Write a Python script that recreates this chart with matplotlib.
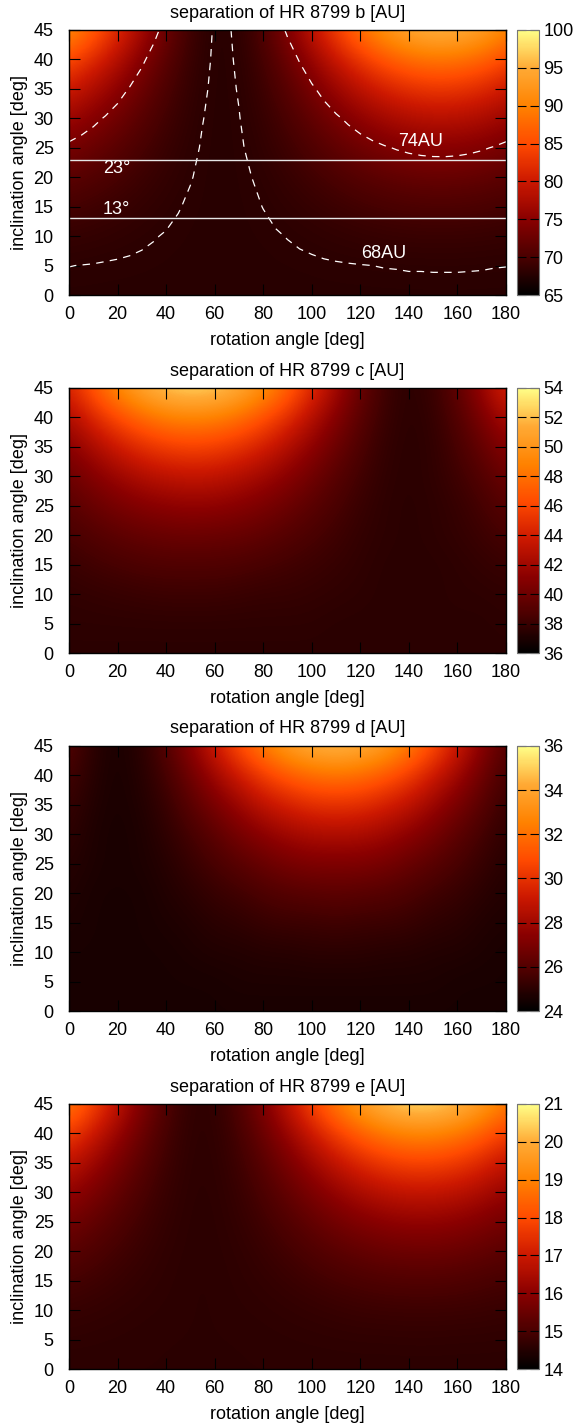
import numpy as np
import matplotlib
matplotlib.use("Agg")
import matplotlib.pyplot as plt
from matplotlib.colors import LinearSegmentedColormap

plt.rcParams['font.family'] = ['Liberation Sans', 'DejaVu Sans']
plt.rcParams['font.size'] = 13

# inclination rows (deg) shared by all maps
inc = [0, 5, 10, 15, 20, 25, 30, 35, 40, 45]

# rotation columns (deg)
rot_fine = [0, 5, 10, 15, 20, 25, 30, 35, 40, 45, 50, 55, 60, 65, 70, 75, 80, 85, 90,
            95, 100, 105, 110, 115, 120, 125, 130, 135, 140, 145, 150, 155, 160, 165, 170, 175, 180]
rot = [0, 10, 20, 30, 40, 50, 60, 70, 80, 90, 100, 110, 120, 130, 140, 150, 160, 170, 180]

# deprojected separation [AU], one row per inclination
sep_b = [
    [67.80] * 37,
    [68.01, 67.99, 67.97, 67.94, 67.92, 67.90, 67.88, 67.86, 67.84, 67.82, 67.81, 67.81, 67.80, 67.80, 67.80, 67.81, 67.82, 67.84, 67.85,
     67.87, 67.89, 67.92, 67.94, 67.96, 67.98, 68.00, 68.02, 68.03, 68.05, 68.05, 68.06, 68.06, 68.06, 68.05, 68.04, 68.02, 68.01],
    [68.63, 68.55, 68.47, 68.38, 68.29, 68.20, 68.11, 68.03, 67.96, 67.90, 67.85, 67.82, 67.80, 67.80, 67.82, 67.85, 67.89, 67.95, 68.02,
     68.10, 68.18, 68.27, 68.36, 68.45, 68.54, 68.62, 68.69, 68.75, 68.79, 68.83, 68.84, 68.84, 68.83, 68.80, 68.76, 68.70, 68.63],
    [69.71, 69.53, 69.34, 69.13, 68.92, 68.72, 68.52, 68.33, 68.17, 68.03, 67.92, 67.85, 67.81, 67.80, 67.84, 67.91, 68.01, 68.14, 68.30,
     68.48, 68.68, 68.88, 69.09, 69.29, 69.49, 69.67, 69.83, 69.97, 70.07, 70.15, 70.19, 70.19, 70.16, 70.09, 69.99, 69.86, 69.71],
    [71.28, 70.96, 70.61, 70.24, 69.86, 69.48, 69.12, 68.78, 68.48, 68.23, 68.03, 67.89, 67.81, 67.81, 67.87, 67.99, 68.18, 68.43, 68.72,
     69.05, 69.41, 69.78, 70.16, 70.53, 70.89, 71.22, 71.50, 71.75, 71.94, 72.07, 72.14, 72.15, 72.09, 71.97, 71.79, 71.56, 71.28],
    [73.42, 72.91, 72.35, 71.76, 71.15, 70.54, 69.95, 69.41, 68.92, 68.50, 68.17, 67.94, 67.82, 67.81, 67.91, 68.12, 68.43, 68.83, 69.30,
     69.84, 70.42, 71.02, 71.63, 72.23, 72.80, 73.32, 73.78, 74.17, 74.47, 74.68, 74.79, 74.80, 74.71, 74.52, 74.24, 73.87, 73.42],
    [76.25, 75.49, 74.66, 73.78, 72.87, 71.96, 71.07, 70.25, 69.50, 68.87, 68.37, 68.02, 67.83, 67.81, 67.97, 68.29, 68.76, 69.37, 70.09,
     70.90, 71.78, 72.68, 73.60, 74.49, 75.33, 76.10, 76.78, 77.35, 77.79, 78.10, 78.26, 78.28, 78.14, 77.86, 77.45, 76.90, 76.25],
    [79.91, 78.85, 77.68, 76.43, 75.13, 73.83, 72.56, 71.37, 70.29, 69.37, 68.64, 68.12, 67.85, 67.82, 68.05, 68.51, 69.21, 70.09, 71.14,
     72.32, 73.57, 74.87, 76.17, 77.44, 78.63, 79.71, 80.66, 81.46, 82.08, 82.50, 82.73, 82.75, 82.57, 82.18, 81.60, 80.84, 79.91],
    [84.65, 83.21, 81.62, 79.90, 78.12, 76.31, 74.54, 72.87, 71.35, 70.04, 69.00, 68.26, 67.87, 67.83, 68.15, 68.82, 69.81, 71.07, 72.55,
     74.20, 75.95, 77.76, 79.55, 81.28, 82.91, 84.38, 85.67, 86.74, 87.58, 88.15, 88.46, 88.48, 88.23, 87.71, 86.93, 85.90, 84.65],
    [90.81, 88.90, 86.77, 84.47, 82.07, 79.62, 77.20, 74.90, 72.79, 70.96, 69.49, 68.45, 67.89, 67.84, 68.30, 69.25, 70.64, 72.40, 74.46,
     76.73, 79.13, 81.58, 84.00, 86.32, 88.49, 90.45, 92.15, 93.57, 94.66, 95.42, 95.82, 95.85, 95.53, 94.84, 93.81, 92.46, 90.81],
]

sep_c = [
    [37.5] * 19,
    [37.6, 37.6, 37.6, 37.6, 37.6, 37.6, 37.6, 37.6, 37.6, 37.6, 37.6, 37.5, 37.5, 37.5, 37.5, 37.5, 37.5, 37.5, 37.6],
    [37.7, 37.8, 37.9, 38.0, 38.1, 38.1, 38.1, 38.0, 37.9, 37.9, 37.8, 37.7, 37.6, 37.5, 37.5, 37.5, 37.6, 37.6, 37.7],
    [38.0, 38.3, 38.5, 38.7, 38.8, 38.8, 38.8, 38.7, 38.5, 38.3, 38.1, 37.9, 37.7, 37.5, 37.5, 37.5, 37.6, 37.8, 38.0],
    [38.5, 38.9, 39.3, 39.6, 39.8, 39.9, 39.8, 39.7, 39.4, 39.0, 38.6, 38.2, 37.8, 37.6, 37.5, 37.6, 37.8, 38.1, 38.5],
    [39.1, 39.8, 40.4, 40.9, 41.2, 41.4, 41.3, 41.0, 40.5, 39.9, 39.2, 38.6, 38.0, 37.6, 37.5, 37.6, 37.9, 38.4, 39.1],
    [39.9, 40.9, 41.8, 42.6, 43.1, 43.3, 43.2, 42.7, 42.0, 41.1, 40.1, 39.1, 38.3, 37.7, 37.5, 37.7, 38.2, 38.9, 39.9],
    [41.0, 42.4, 43.7, 44.8, 45.5, 45.8, 45.6, 45.0, 44.0, 42.7, 41.3, 39.9, 38.7, 37.8, 37.5, 37.7, 38.5, 39.6, 41.0],
    [42.4, 44.4, 46.2, 47.6, 48.6, 48.9, 48.7, 47.9, 46.5, 44.8, 42.8, 40.9, 39.2, 38.0, 37.5, 37.8, 38.9, 40.5, 42.4],
    [44.3, 47.0, 49.4, 51.3, 52.5, 53.0, 52.7, 51.6, 49.8, 47.5, 44.8, 42.2, 39.8, 38.2, 37.5, 38.0, 39.4, 41.7, 44.3],
]

sep_d = [
    [24.6] * 19,
    [24.6, 24.6, 24.6, 24.6, 24.6, 24.6, 24.6, 24.7, 24.7, 24.7, 24.7, 24.7, 24.7, 24.7, 24.7, 24.7, 24.6, 24.6, 24.6],
    [24.6, 24.6, 24.6, 24.6, 24.6, 24.7, 24.8, 24.8, 24.9, 24.9, 25.0, 25.0, 25.0, 24.9, 24.9, 24.8, 24.8, 24.7, 24.6],
    [24.7, 24.6, 24.6, 24.6, 24.7, 24.8, 25.0, 25.1, 25.3, 25.4, 25.4, 25.5, 25.4, 25.4, 25.3, 25.1, 25.0, 24.8, 24.7],
    [24.8, 24.6, 24.6, 24.6, 24.8, 25.0, 25.3, 25.5, 25.8, 26.0, 26.1, 26.2, 26.1, 26.0, 25.8, 25.5, 25.3, 25.0, 24.8],
    [24.9, 24.7, 24.6, 24.7, 24.9, 25.3, 25.7, 26.1, 26.5, 26.9, 27.1, 27.1, 27.1, 26.9, 26.5, 26.1, 25.7, 25.3, 24.9],
    [25.1, 24.7, 24.6, 24.7, 25.1, 25.6, 26.2, 26.9, 27.5, 28.0, 28.3, 28.4, 28.3, 28.0, 27.5, 26.9, 26.2, 25.6, 25.1],
    [25.3, 24.8, 24.6, 24.8, 25.3, 26.1, 27.0, 27.9, 28.8, 29.4, 29.9, 30.0, 29.9, 29.4, 28.8, 27.9, 27.0, 26.1, 25.3],
    [25.6, 24.9, 24.6, 24.9, 25.6, 26.7, 28.0, 29.2, 30.4, 31.3, 31.9, 32.1, 31.9, 31.3, 30.4, 29.2, 28.0, 26.7, 25.6],
    [26.0, 25.0, 24.6, 25.0, 26.0, 27.5, 29.2, 31.0, 32.5, 33.8, 34.5, 34.8, 34.5, 33.8, 32.5, 31.0, 29.2, 27.5, 26.0],
]

sep_e = [
    [14.60] * 19,
    [14.64, 14.63, 14.62, 14.61, 14.60, 14.60, 14.60, 14.60, 14.61, 14.62, 14.63, 14.64, 14.65, 14.65, 14.66, 14.66, 14.65, 14.65, 14.64],
    [14.75, 14.71, 14.67, 14.64, 14.62, 14.60, 14.60, 14.62, 14.64, 14.67, 14.71, 14.75, 14.79, 14.81, 14.82, 14.82, 14.81, 14.79, 14.75],
    [14.95, 14.86, 14.77, 14.69, 14.64, 14.60, 14.60, 14.64, 14.69, 14.77, 14.86, 14.95, 15.02, 15.08, 15.11, 15.11, 15.08, 15.02, 14.95],
    [15.24, 15.08, 14.91, 14.77, 14.66, 14.61, 14.61, 14.66, 14.77, 14.91, 15.08, 15.24, 15.37, 15.48, 15.53, 15.53, 15.48, 15.37, 15.24],
    [15.63, 15.37, 15.11, 14.88, 14.71, 14.61, 14.61, 14.71, 14.88, 15.11, 15.37, 15.63, 15.85, 16.01, 16.10, 16.10, 16.01, 15.85, 15.63],
    [16.15, 15.77, 15.38, 15.03, 14.76, 14.62, 14.62, 14.76, 15.03, 15.38, 15.77, 16.15, 16.48, 16.72, 16.84, 16.84, 16.72, 16.48, 16.15],
    [16.83, 16.29, 15.73, 15.23, 14.84, 14.63, 14.63, 14.84, 15.23, 15.73, 16.29, 16.83, 17.29, 17.63, 17.80, 17.80, 17.63, 17.29, 16.83],
    [17.72, 16.98, 16.20, 15.49, 14.94, 14.64, 14.64, 14.94, 15.49, 16.20, 16.98, 17.72, 18.34, 18.79, 19.03, 19.03, 18.79, 18.34, 17.72],
    [18.87, 17.88, 16.83, 15.85, 15.08, 14.66, 14.66, 15.08, 15.85, 16.83, 17.88, 18.87, 19.70, 20.30, 20.61, 20.61, 20.30, 19.70, 18.87],
]

planets = ['b', 'c', 'd', 'e']
cb_ranges = [(65, 100, 5), (36, 54, 2), (24, 36, 2), (14, 21, 1)]

# contour levels and marked inclinations for planet b
levels_b = [68, 74]
incl_lines = [23, 13]

heat = LinearSegmentedColormap.from_list('heat', [
    (0.0, '#000000'), (0.143, '#4a0000'), (0.286, '#8a0000'), (0.429, '#cc1800'),
    (0.571, '#ff4a00'), (0.714, '#ff8200'), (0.857, '#ffaa35'), (1.0, '#ffff88')])

W, H = 576, 1423
fig = plt.figure(figsize=(W / 100, H / 100), dpi=100)

tops = [30, 388, 746, 1104]
ax_h = 265
for k, (name, z, x, (lo, hi, step)) in enumerate(zip(
        planets, [sep_b, sep_c, sep_d, sep_e], [rot_fine, rot, rot, rot], cb_ranges)):
    top = tops[k]
    ax = fig.add_axes([69 / W, 1 - (top + ax_h) / H, 437 / W, ax_h / H])
    cax = fig.add_axes([517 / W, 1 - (top + ax_h) / H, 22 / W, ax_h / H])

    z = np.array(z)
    dx = (x[1] - x[0]) / 2
    dy = (inc[1] - inc[0]) / 2
    im = ax.imshow(z, origin='lower', aspect='auto', cmap=heat, vmin=lo, vmax=hi,
                   interpolation='bicubic',
                   extent=[x[0] - dx, x[-1] + dx, inc[0] - dy, inc[-1] + dy])
    ax.set_xlim(0, 180)
    ax.set_ylim(0, 45)
    ax.set_xticks(range(0, 181, 20))
    ax.set_yticks(range(0, 46, 5))
    ax.tick_params(direction='in', top=True, right=True, length=8, width=0.8)
    ax.tick_params(axis='x', pad=8)
    ax.tick_params(axis='y', pad=11)
    ax.set_xlabel('rotation angle [deg]')
    ax.set_ylabel('inclination angle [deg]')
    ax.xaxis.set_label_coords(0.5, -0.138)
    ax.yaxis.set_label_coords(-0.094, 0.5)
    ax.set_title('separation of HR 8799 %s [AU]' % name, pad=9, fontsize=13)
    for sp in ax.spines.values():
        sp.set_linewidth(1.0)

    if name == 'b':
        ax.contour(x, inc, z, levels=levels_b, colors='white',
                   linewidths=0.9, linestyles=[(0, (6, 5))])
        for v in incl_lines:
            ax.axhline(v, color='#e6e6e6', lw=1.0)
        ax.text(135.5, 26.0, '%dAU' % levels_b[1], color='white', va='center', ha='left')
        ax.text(120.3, 7.0, '%dAU' % levels_b[0], color='white', va='center', ha='left')
        ax.text(14, 21.4, '%d°' % incl_lines[0], color='white', va='center', ha='left')
        ax.text(14, 14.5, '%d°' % incl_lines[1], color='white', va='center', ha='left')

    cb = fig.colorbar(im, cax=cax, ticks=np.arange(lo, hi + 0.1, step))
    cb.outline.set_edgecolor('#777777')
    cb.outline.set_linewidth(0.8)
    cax.tick_params(direction='in', left=True, right=True, length=6.5, width=0.8, pad=3)

fig.savefig('out.png', dpi=100)
